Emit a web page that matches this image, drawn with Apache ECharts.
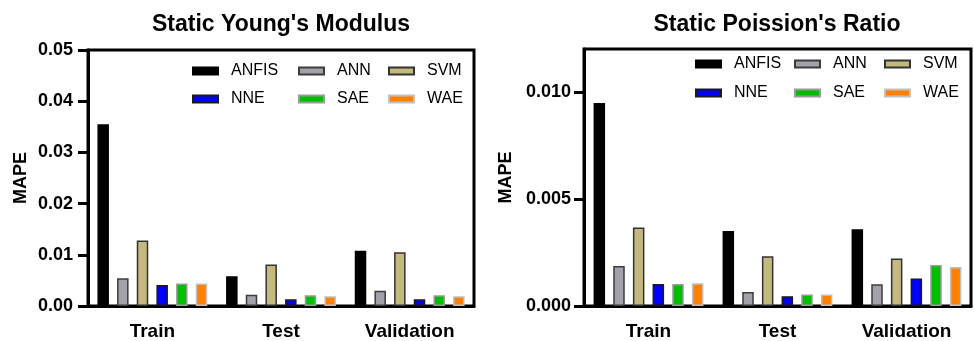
<!DOCTYPE html>
<html>
<head>
<meta charset="utf-8">
<script src="https://cdn.jsdelivr.net/npm/echarts@6/dist/echarts.min.js"></script>
<style>
html,body{margin:0;padding:0;background:#fff;}
#c{width:975px;height:341px;}
</style>
</head>
<body>
<div id="c"></div>
<script>
const categories = ['Train', 'Test', 'Validation'];
const seriesNames = ['ANFIS', 'ANN', 'SVM', 'NNE', 'SAE', 'WAE'];

// Static Young's Modulus (MAPE)
const ymANFIS = [0.0355, 0.0058, 0.0108];
const ymANN   = [0.0054, 0.0022, 0.0030];
const ymSVM   = [0.0128, 0.0081, 0.0105];
const ymNNE   = [0.0041, 0.0013, 0.0013];
const ymSAE   = [0.0044, 0.0021, 0.0021];
const ymWAE   = [0.0044, 0.0019, 0.0019];

// Static Poisson's Ratio (MAPE)
const prANFIS = [0.00948, 0.00350, 0.00358];
const prANN   = [0.00187, 0.00065, 0.00102];
const prSVM   = [0.00366, 0.00232, 0.00222];
const prNNE   = [0.00103, 0.00046, 0.00128];
const prSAE   = [0.00103, 0.00054, 0.00192];
const prWAE   = [0.00106, 0.00054, 0.00182];

const ymTicks = [0, 0.01, 0.02, 0.03, 0.04, 0.05];
const prTicks = [0, 0.005, 0.010];

const titles = ["Static Young's Modulus", "Static Poission's Ratio"];

const ymData = [ymANFIS, ymANN, ymSVM, ymNNE, ymSAE, ymWAE];
const prData = [prANFIS, prANN, prSVM, prNNE, prSAE, prWAE];

const FONT = "'Liberation Sans', Arial, Helvetica, sans-serif";
const fills   = ['#000000', '#a2a2aa', '#c4b97f', '#0000ff', '#00bf00', '#ff8000'];
const borders = ['#000000', '#3c3c3c', '#333333', '#1a1a1a', '#9a9a9a', '#c0c0c0'];

function makeSeries(dataSet, gi) {
  return seriesNames.map((n, i) => ({
    name: n, type: 'bar', xAxisIndex: gi, yAxisIndex: gi,
    data: dataSet[i], barWidth: 11.5, barGap: '71%',
    itemStyle: { color: fills[i], borderColor: borders[i], borderWidth: 1.5 },
    emphasis: { disabled: true }
  }));
}

function xAx(gi) {
  return {
    type: 'category', gridIndex: gi, data: categories,
    axisLine: { lineStyle: { color: '#000', width: 3 } },
    axisTick: { alignWithLabel: true, length: 10, lineStyle: { color: '#000', width: 3 } },
    axisLabel: { color: '#000', fontFamily: FONT, fontWeight: 'bold', fontSize: 19, margin: 16 },
    splitLine: { show: false }
  };
}

function yAx(gi, max, interval, ticks, dec, margin, gap) {
  return {
    type: 'value', gridIndex: gi, min: 0, max: max, interval: interval,
    name: 'MAPE', nameLocation: 'middle', nameGap: gap,
    nameTextStyle: { color: '#000', fontFamily: FONT, fontWeight: 'bold', fontSize: 18 },
    axisLine: { show: true, lineStyle: { color: '#000', width: 3 } },
    axisTick: { show: true, length: 10, customValues: ticks, lineStyle: { color: '#000', width: 3 } },
    axisLabel: {
      color: '#000', fontFamily: FONT, fontWeight: 'bold', fontSize: 18, margin: margin,
      customValues: ticks,
      formatter: v => (ticks.some(t => Math.abs(t - v) < 1e-9) ? v.toFixed(dec) : '')
    },
    splitLine: { show: false }
  };
}

function legendCol(left, top, names, gap) {
  return {
    orient: 'vertical', left: left, top: top, padding: 0, itemGap: gap,
    itemWidth: 25, itemHeight: 7, selectedMode: false, icon: 'rect',
    data: names,
    textStyle: { color: '#000', fontFamily: FONT, fontSize: 16, lineHeight: 16, padding: [0, 0, 0, 8] }
  };
}

const option = {
  animation: false,
  backgroundColor: '#fff',
  title: [
    { text: titles[0], left: 281, top: 13, padding: 0, textAlign: 'center',
      textStyle: { color: '#000', fontFamily: FONT, fontWeight: 'bold', fontSize: 23, lineHeight: 24 } },
    { text: titles[1], left: 777, top: 13, padding: 0, textAlign: 'center',
      textStyle: { color: '#000', fontFamily: FONT, fontWeight: 'bold', fontSize: 23, lineHeight: 24 } }
  ],
  legend: [
    legendCol(192, 63, ['ANFIS', 'NNE'], 12),
    legendCol(298, 63, ['ANN', 'SAE'], 12),
    legendCol(388, 63, ['SVM', 'WAE'], 12),
    legendCol(695, 56, ['ANFIS', 'NNE'], 13),
    legendCol(794, 56, ['ANN', 'SAE'], 13),
    legendCol(884, 56, ['SVM', 'WAE'], 13)
  ],
  grid: [
    { left: 88, top: 50, width: 386, height: 258, show: true, borderColor: '#000', borderWidth: 3, containLabel: false },
    { left: 584, top: 49, width: 387, height: 259, show: true, borderColor: '#000', borderWidth: 3, containLabel: false }
  ],
  xAxis: [xAx(0), xAx(1)],
  yAxis: [
    yAx(0, 0.05, 0.01, ymTicks, 2, 15, 58),
    yAx(1, 0.012, 0.005, prTicks, 3, 13, 69)
  ],
  series: makeSeries(ymData, 0).concat(makeSeries(prData, 1))
};

const chart = echarts.init(document.getElementById('c'), null, { renderer: 'canvas' });
chart.setOption(option);
</script>
</body>
</html>
